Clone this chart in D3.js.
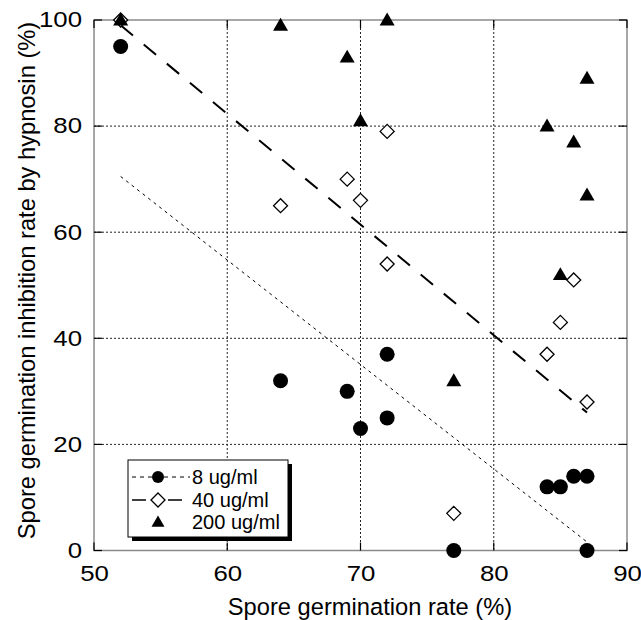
<!DOCTYPE html>
<html>
<head>
<meta charset="utf-8">
<script src="https://cdn.jsdelivr.net/npm/d3@7"></script>
<style>
  html, body { margin: 0; padding: 0; background: #fff; }
  svg { display: block; font-family: "Liberation Sans", Arial, Helvetica, sans-serif; }
</style>
</head>
<body>
<svg id="chart" width="641" height="620"></svg>
<script>
// ---- data ----
const xTicks = [50, 60, 70, 80, 90];
const yTicks = [0, 20, 40, 60, 80, 100];

const conc8X = [52, 64, 69, 70, 72, 72, 77, 84, 85, 86, 87, 87];
const conc8Y = [95, 32, 30, 23, 37, 25, 0, 12, 12, 14, 14, 0];

const conc40X = [52, 64, 69, 70, 72, 72, 77, 84, 85, 86, 87];
const conc40Y = [100, 65, 70, 66, 79, 54, 7, 37, 43, 51, 28];

const conc200X = [52, 64, 69, 70, 72, 77, 84, 85, 86, 87, 87];
const conc200Y = [100, 99, 93, 81, 100, 32, 80, 52, 77, 89, 67];

// trend lines (end points)
const trend8X = [52, 87];
const trend8Y = [70.5, 1.6];
const trend40X = [52, 87];
const trend40Y = [99, 26];

const legendLabels = ["8 ug/ml", "40 ug/ml", "200 ug/ml"];
const xTitle = "Spore germination rate (%)";
const yTitle = "Spore germination inhibition rate by hypnosin  (%)";

// ---- layout ----
const svg = d3.select("#chart");
const L = 94, R = 627, T = 20, B = 550.5;
const x = d3.scaleLinear().domain([50, 90]).range([L, R]);
const y = d3.scaleLinear().domain([0, 100]).range([B, T]);

// gridlines
const grid = svg.append("g");
grid.selectAll("line.gx").data(xTicks.slice(1, -1)).join("line")
  .attr("x1", d => x(d)).attr("x2", d => x(d)).attr("y1", T).attr("y2", B)
  .attr("stroke", "#222").attr("stroke-width", 1).attr("stroke-dasharray", "2,2");
grid.selectAll("line.gy").data(yTicks.slice(1, -1)).join("line")
  .attr("y1", d => y(d)).attr("y2", d => y(d)).attr("x1", L).attr("x2", R)
  .attr("stroke", "#222").attr("stroke-width", 1).attr("stroke-dasharray", "2,2");

// frame
svg.append("rect").attr("x", L).attr("y", T).attr("width", R - L).attr("height", B - T)
  .attr("fill", "none").attr("stroke", "#8a8a8a").attr("stroke-width", 1.5);

// inward ticks on all sides
const tk = 8;
const ticks = svg.append("g").attr("stroke", "#000").attr("stroke-width", 1.2);
xTicks.forEach(d => {
  ticks.append("line").attr("x1", x(d)).attr("x2", x(d)).attr("y1", B).attr("y2", B - tk);
  ticks.append("line").attr("x1", x(d)).attr("x2", x(d)).attr("y1", T).attr("y2", T + tk);
});
yTicks.forEach(d => {
  ticks.append("line").attr("y1", y(d)).attr("y2", y(d)).attr("x1", L).attr("x2", L + tk);
  ticks.append("line").attr("y1", y(d)).attr("y2", y(d)).attr("x1", R).attr("x2", R - tk);
});

// tick labels via d3 axes (labels widened like the original)
const tickFont = 21.5, stretch = 1.2;
const xAxis = svg.append("g").attr("transform", `translate(0,${B})`)
  .call(d3.axisBottom(x).tickValues(xTicks).tickSize(0).tickPadding(15).tickFormat(d3.format("d")));
xAxis.select(".domain").remove();
xAxis.selectAll("text").attr("font-size", tickFont).attr("fill", "#000")
  .attr("font-family", "'Liberation Sans', Arial, sans-serif")
  .attr("transform", `scale(${stretch},1)`);

const yAxis = svg.append("g").attr("transform", `translate(${L - 12},0)`)
  .call(d3.axisLeft(y).tickValues(yTicks).tickSize(0).tickPadding(0).tickFormat(d3.format("d")));
yAxis.select(".domain").remove();
yAxis.selectAll("text").attr("font-size", tickFont).attr("fill", "#000")
  .attr("font-family", "'Liberation Sans', Arial, sans-serif")
  .attr("transform", `scale(${stretch},1)`);

// titles
svg.append("text").attr("x", 370).attr("y", 615).attr("text-anchor", "middle")
  .attr("font-size", 23.7).text(xTitle);
svg.append("text").attr("transform", "translate(35,280.5) rotate(-90)").attr("text-anchor", "middle")
  .attr("font-size", 23.7).text(yTitle);

// trend lines
const lineGen = d3.line().x(d => x(d[0])).y(d => y(d[1]));
svg.append("path").datum(d3.zip(trend8X, trend8Y)).attr("d", lineGen)
  .attr("fill", "none").attr("stroke", "#000").attr("stroke-width", 1).attr("stroke-dasharray", "3,4");
svg.append("path").datum(d3.zip(trend40X, trend40Y)).attr("d", lineGen)
  .attr("fill", "none").attr("stroke", "#000").attr("stroke-width", 2).attr("stroke-dasharray", "16,14");

// markers
const diamond = s => `M0,${-s}L${s},0L0,${s}L${-s},0Z`;
const tri = s => `M0,${-s}L${s},${s * 0.73}L${-s},${s * 0.73}Z`;

svg.append("g").selectAll("circle").data(d3.zip(conc8X, conc8Y)).join("circle")
  .attr("cx", d => x(d[0])).attr("cy", d => y(d[1])).attr("r", 7.5).attr("fill", "#000");

svg.append("g").selectAll("path").data(d3.zip(conc40X, conc40Y)).join("path")
  .attr("transform", d => `translate(${x(d[0])},${y(d[1])})`)
  .attr("d", diamond(7)).attr("fill", "#fff").attr("stroke", "#000").attr("stroke-width", 1.3);

svg.append("g").selectAll("path").data(d3.zip(conc200X, conc200Y)).join("path")
  .attr("transform", d => `translate(${x(d[0])},${y(d[1])})`)
  .attr("d", tri(7.5)).attr("fill", "#000");

// legend
const lg = svg.append("g");
const bx = 128, by = 460, bw = 160, bh = 77;
lg.append("rect").attr("x", bx + 4).attr("y", by + 4).attr("width", bw).attr("height", bh).attr("fill", "#000");
lg.append("rect").attr("x", bx).attr("y", by).attr("width", bw).attr("height", bh)
  .attr("fill", "#fff").attr("stroke", "#000").attr("stroke-width", 1);
const rowY = [477, 500, 522];
const mx = 158;
// row 1
lg.append("line").attr("x1", 132).attr("x2", 190).attr("y1", rowY[0]).attr("y2", rowY[0])
  .attr("stroke", "#000").attr("stroke-width", 1).attr("stroke-dasharray", "4,4");
lg.append("circle").attr("cx", mx).attr("cy", rowY[0]).attr("r", 6).attr("fill", "#000");
// row 2
lg.append("line").attr("x1", 132).attr("x2", 190).attr("y1", rowY[1]).attr("y2", rowY[1])
  .attr("stroke", "#000").attr("stroke-width", 1.3).attr("stroke-dasharray", "14,14,4,4");
lg.append("path").attr("transform", `translate(${mx},${rowY[1]})`).attr("d", diamond(7))
  .attr("fill", "#fff").attr("stroke", "#000").attr("stroke-width", 1.3);
// row 3
lg.append("path").attr("transform", `translate(${mx},${rowY[2]})`).attr("d", tri(6.5)).attr("fill", "#000");
lg.selectAll("text").data(legendLabels).join("text")
  .attr("x", 192).attr("y", (d, i) => rowY[i] + 7).attr("font-size", 20).text(d => d);
</script>
</body>
</html>
